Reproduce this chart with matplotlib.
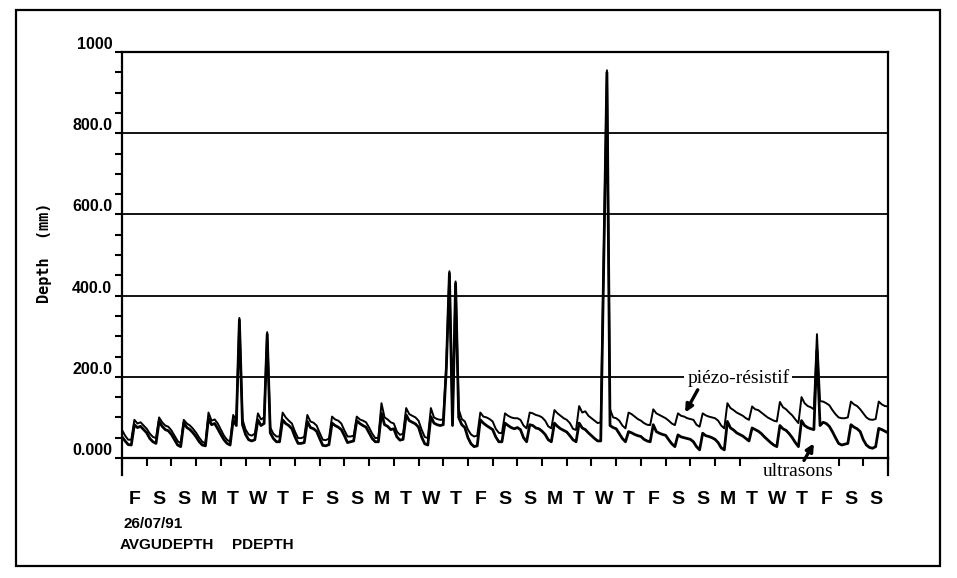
import numpy as np
import matplotlib.pyplot as plt
from matplotlib.patches import Rectangle
from matplotlib.transforms import blended_transform_factory

# depth readings every 3 hours, one row per day, starting 26/07/91 00h
piezo = [
    69, 55, 45, 45, 94, 85, 88, 80,
    72, 60, 52, 49, 100, 88, 80, 77,
    68, 55, 42, 36, 94, 85, 80, 72,
    62, 50, 40, 36, 112, 92, 95, 85,
    70, 55, 45, 40, 106, 92, 345, 95,
    70, 58, 55, 60, 110, 95, 100, 310,
    75, 60, 53, 53, 112, 100, 92, 85,
    65, 49, 49, 52, 106, 90, 87, 80,
    62, 45, 44, 48, 102, 95, 92, 85,
    68, 53, 53, 55, 102, 95, 92, 88,
    75, 60, 49, 50, 135, 100, 95, 88,
    85, 65, 57, 60, 123, 108, 104, 100,
    92, 70, 52, 49, 123, 100, 96, 94,
    95, 230, 460, 85, 435, 120, 96, 90,
    70, 58, 53, 55, 112, 102, 100, 96,
    90, 72, 62, 61, 110, 104, 100, 98,
    98, 94, 80, 73, 112, 110, 106, 104,
    100, 92, 78, 73, 118, 110, 104, 98,
    94, 86, 72, 69, 128, 112, 115, 104,
    98, 92, 86, 88, 520, 955, 120, 100,
    98, 92, 80, 73, 112, 108, 102, 96,
    92, 86, 82, 81, 120, 110, 106, 102,
    98, 92, 85, 81, 110, 104, 102, 98,
    96, 94, 82, 77, 110, 105, 102, 100,
    98, 92, 80, 73, 135, 123, 118, 112,
    108, 104, 98, 94, 127, 120, 118, 112,
    106, 100, 96, 92, 90, 138, 125, 120,
    112, 105, 95, 86, 150, 135, 128, 125,
    120, 305, 140, 139, 135, 130, 118, 108,
    100, 98, 98, 100, 139, 132, 128, 120,
    110, 100, 95, 94, 96, 139, 132, 128,
    127,
]
ultrasons = [
    52, 42, 33, 32, 82, 75, 78, 70,
    62, 48, 40, 36, 90, 78, 70, 67,
    58, 45, 32, 28, 87, 75, 70, 62,
    52, 40, 32, 30, 98, 82, 85, 72,
    58, 45, 36, 32, 94, 80, 340, 82,
    58, 45, 42, 45, 94, 80, 85, 305,
    62, 48, 40, 40, 94, 85, 80, 72,
    52, 36, 36, 38, 90, 75, 72, 66,
    48, 31, 30, 33, 86, 80, 76, 70,
    55, 38, 40, 42, 92, 85, 80, 76,
    62, 48, 40, 40, 110, 82, 78, 70,
    72, 52, 44, 46, 106, 92, 88, 84,
    76, 52, 35, 32, 102, 86, 82, 80,
    82, 220, 455, 80, 430, 100, 82, 75,
    50, 35, 28, 30, 94, 86, 80, 75,
    70, 52, 40, 40, 86, 80, 75, 72,
    75, 70, 50, 40, 82, 80, 74, 72,
    66, 58, 45, 40, 86, 78, 72, 68,
    64, 55, 45, 40, 86, 74, 70, 62,
    55, 48, 42, 42, 500, 950, 80, 75,
    72, 60, 48, 40, 65, 62, 58, 55,
    53, 46, 42, 40, 82, 65, 61, 58,
    56, 45, 35, 28, 57, 52, 50, 48,
    46, 40, 28, 20, 61, 55, 53, 50,
    46, 38, 25, 20, 90, 74, 69, 62,
    58, 54, 48, 42, 74, 70, 66, 60,
    52, 45, 38, 32, 28, 80, 72, 68,
    60, 50, 38, 28, 92, 80, 75, 72,
    70, 265, 80, 88, 85, 78, 65, 50,
    36, 32, 34, 36, 82, 76, 72, 65,
    45, 32, 26, 24, 28, 73, 70, 66,
    62,
]
day_names = ['F', 'S', 'S', 'M', 'T', 'W', 'T'] * 4 + ['F', 'S', 'S']
y_ticks = [0, 200, 400, 600, 800, 1000]
y_labels = ['0.000', '200.0', '400.0', '600.0', '800.0', '1000']

narrow = dict(family='Liberation Sans', fontweight='bold')

t = np.arange(len(piezo)) / 8.0

fig = plt.figure(figsize=(9.57, 5.78), dpi=100)
ax = fig.add_axes([0.1275, 0.2076, 0.8004, 0.7024])

for v in y_ticks[1:-1]:
    ax.axhline(v, color='black', lw=1.3, zorder=1)

ax.plot(t, piezo, color='black', lw=1.4, zorder=2)
ax.plot(t, ultrasons, color='black', lw=2.0, zorder=2)

ax.set_xlim(0, 31)
ax.set_ylim(0, 1000)
for s in ax.spines.values():
    s.set_linewidth(1.6)

ax.set_xticks(np.arange(0, 32))
ax.set_xticklabels([])
ax.tick_params(axis='x', direction='out', length=6, width=1.5)
ax.set_yticks(y_ticks)
ax.set_yticks(np.arange(0, 1001, 50), minor=True)
ax.set_yticklabels(y_labels, fontsize=11.5, **narrow)
ax.tick_params(axis='y', which='both', direction='out', length=5, width=1.5, pad=2)
for lbl in ax.get_yticklabels():
    lbl.set_verticalalignment('bottom')

# vertical axes run a little below the zero line
for xa in [0, 1]:
    ax.plot([xa, xa], [-0.042, 0], transform=ax.transAxes, color='black',
            lw=1.6, clip_on=False)

trans = blended_transform_factory(ax.transData, ax.transAxes)
for i, d in enumerate(day_names):
    ax.text(i + 0.5, -0.103, d, transform=trans, ha='center', va='center',
            fontsize=14, **narrow)

ax.text(24.94, 197, 'piézo-résistif', ha='center', va='center',
        family='Liberation Serif', fontsize=14, zorder=4,
        bbox=dict(facecolor='white', edgecolor='none', pad=2))
ax.annotate('', xy=(22.79, 112), xytext=(23.3, 168), zorder=5,
            arrowprops=dict(arrowstyle='-|>', lw=2.4, color='black',
                            mutation_scale=11, shrinkA=0, shrinkB=0))
ax.text(27.37, -33, 'ultrasons', ha='center', va='center',
        family='Liberation Serif', fontsize=14, zorder=4,
        bbox=dict(facecolor='white', edgecolor='none', pad=3))
ax.annotate('', xy=(28.0, 36), xytext=(27.6, -6), zorder=5,
            arrowprops=dict(arrowstyle='-|>', lw=2.4, color='black',
                            mutation_scale=11, shrinkA=0, shrinkB=0),
            annotation_clip=False)

fig.text(45 / 957, 1 - 253 / 578, 'Depth  (mm)', rotation=90, ha='center', va='center',
         family='DejaVu Sans Mono', fontweight='bold', fontsize=11)
fig.text(123 / 957, 0.0934, '26/07/91', ha='left', va='center', fontsize=11, **narrow)
fig.text(120 / 957, 0.0571, 'AVGUDEPTH', ha='left', va='center', fontsize=11, **narrow)
fig.text(232 / 957, 0.0571, 'PDEPTH', ha='left', va='center', fontsize=11, **narrow)

fig.add_artist(Rectangle((16 / 957, 12 / 578), 924 / 957, 556 / 578,
                         transform=fig.transFigure, fill=False, lw=1.6, color='black'))

fig.savefig('out.png', dpi=100)
